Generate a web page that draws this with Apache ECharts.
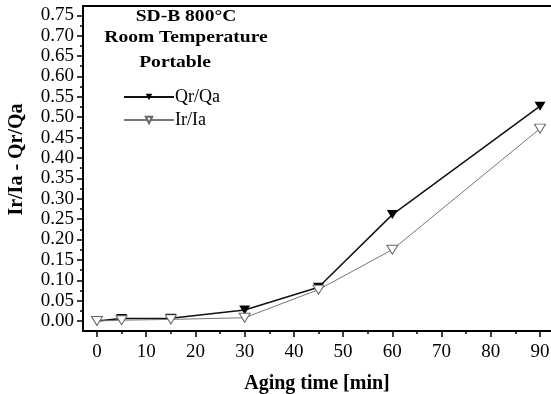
<!DOCTYPE html>
<html><head><meta charset="utf-8">
<script src="https://cdn.jsdelivr.net/npm/echarts@6/dist/echarts.min.js"></script>
<style>html,body{margin:0;padding:0;background:#fff}#c{width:551px;height:394px}</style>
</head><body><div id="c"></div>
<script>
var times = [0, 5, 15, 30, 45, 60, 90];
var qrqa = [0, 0.006, 0.007, 0.027, 0.083, 0.261, 0.527];
var iria = [0, 0.002, 0.004, 0.008, 0.077, 0.175, 0.472];
var xMajor = [0, 10, 20, 30, 40, 50, 60, 70, 80, 90];
var xMinor = [5, 15, 25, 35, 45, 55, 65, 75, 85];
var yMajor = [0, 0.05, 0.10, 0.15, 0.20, 0.25, 0.30, 0.35, 0.40, 0.45, 0.50, 0.55, 0.60, 0.65, 0.70, 0.75];
var yMinor = [0.025, 0.075, 0.125, 0.175, 0.225, 0.275, 0.325, 0.375, 0.425, 0.475, 0.525, 0.575, 0.625, 0.675, 0.725];
var titleLines = ['SD-B 800°C', 'Room Temperature', 'Portable'];

var FONT = '"Liberation Serif", "Times New Roman", serif';
var downTri = 'path://M0,0 L10,0 L5,9 Z';
var xMin = -2.84, xMax = 92.23, yMin = -0.0245, yMax = 0.7728;

function pair(a, b) { return a.map(function (v, i) { return [v, b[i]]; }); }

var chart = echarts.init(document.getElementById('c'), null, {renderer: 'canvas'});
chart.setOption({
  animation: false,
  backgroundColor: '#fff',
  grid: {left: 83, top: 6, right: 0, bottom: 63, containLabel: false, outerBoundsMode: 'none'},
  legend: {
    orient: 'vertical', left: 118, top: 83, itemWidth: 50, itemHeight: 8, itemGap: 5,
    textStyle: {fontFamily: FONT, fontSize: 18, color: '#000', padding: [0, 0, 0, -4]},
    data: ['Qr/Qa', 'Ir/Ia']
  },
  xAxis: [{
    type: 'value', min: xMin, max: xMax, position: 'bottom',
    name: 'Aging time [min]', nameLocation: 'middle', nameGap: 43,
    nameTextStyle: {fontFamily: FONT, fontSize: 20, fontWeight: 'bold', color: '#000'},
    axisLine: {show: true, onZero: false, lineStyle: {color: '#000', width: 2}},
    axisTick: {show: true, inside: false, length: 6, customValues: xMajor, lineStyle: {color: '#000', width: 1.5}},
    axisLabel: {customValues: xMajor, fontFamily: FONT, fontSize: 19, color: '#000', margin: 12},
    splitLine: {show: false}
  }, {
    type: 'value', min: xMin, max: xMax, position: 'bottom',
    axisLine: {show: false, onZero: false},
    axisTick: {show: true, length: 3, customValues: xMinor, lineStyle: {color: '#000', width: 1.5}},
    axisLabel: {show: false}, splitLine: {show: false}
  }, {
    type: 'value', min: xMin, max: xMax, position: 'top',
    axisLine: {show: true, onZero: false, lineStyle: {color: '#000', width: 2}},
    axisTick: {show: false}, axisLabel: {show: false}, splitLine: {show: false}
  }],
  yAxis: [{
    type: 'value', min: yMin, max: yMax, position: 'left',
    name: 'Ir/Ia - Qr/Qa', nameLocation: 'middle', nameGap: 56,
    nameTextStyle: {fontFamily: FONT, fontSize: 20, fontWeight: 'bold', color: '#000', padding: [0, 0, 0, 18]},
    axisLine: {show: true, onZero: false, lineStyle: {color: '#000', width: 2}},
    axisTick: {show: true, length: 6, customValues: yMajor, lineStyle: {color: '#000', width: 1.5}},
    axisLabel: {customValues: yMajor, fontFamily: FONT, fontSize: 19, color: '#000', margin: 9,
      formatter: function (v) { return v.toFixed(2); }},
    splitLine: {show: false}
  }, {
    type: 'value', min: yMin, max: yMax, position: 'left',
    axisLine: {show: false, onZero: false},
    axisTick: {show: true, length: 3, customValues: yMinor, lineStyle: {color: '#000', width: 1.5}},
    axisLabel: {show: false}, splitLine: {show: false}
  }],
  graphic: titleLines.map(function (t, i) {
    return {
      type: 'text', x: [186, 186, 175][i], y: [17, 38, 63][i],
      style: {text: t, fontFamily: FONT, fontSize: 17, fontWeight: 'bold', fill: '#000',
        textAlign: 'center', textVerticalAlign: 'middle'},
      scaleX: 1.15, originX: 0, originY: 0
    };
  }),
  series: [{
    name: 'Qr/Qa', type: 'line', xAxisIndex: 0, yAxisIndex: 0,
    data: pair(times, qrqa),
    symbol: downTri, symbolSize: [11, 9],
    lineStyle: {color: '#111', width: 1.5},
    itemStyle: {color: '#000', borderColor: '#000', borderWidth: 0},
    z: 3
  }, {
    name: 'Ir/Ia', type: 'line', xAxisIndex: 0, yAxisIndex: 0,
    data: pair(times, iria),
    symbol: downTri, symbolSize: [11, 9],
    lineStyle: {color: '#777', width: 1},
    itemStyle: {color: '#fff', borderColor: '#666', borderWidth: 1},
    z: 4
  }]
});
</script></body></html>
